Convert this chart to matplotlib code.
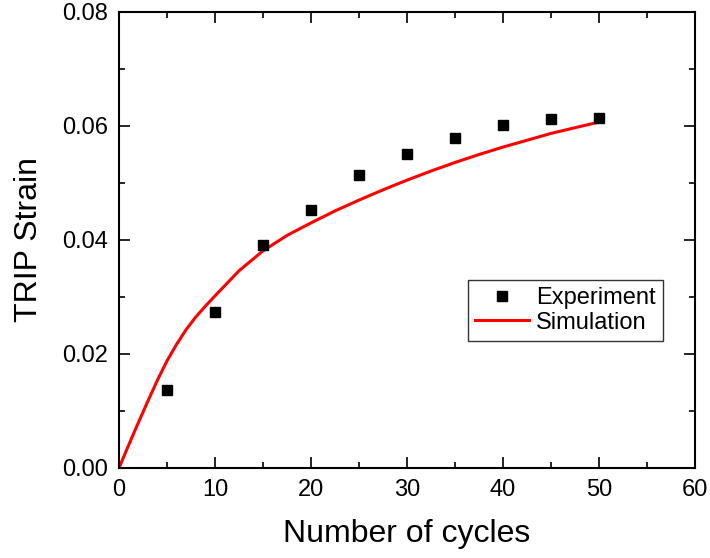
import matplotlib.pyplot as plt
from matplotlib.ticker import MultipleLocator, FormatStrFormatter

plt.rcParams['font.family'] = ['Liberation Sans', 'DejaVu Sans']

# experiment points
exp_cycles = [5, 10, 15, 20, 25, 30, 35, 40, 45, 50]
exp_strain = [0.0137, 0.0274, 0.0391, 0.0453, 0.0514, 0.0550, 0.0579, 0.0602, 0.0612, 0.0614]

# simulation curve
sim_cycles = [0, 1, 2, 3, 4, 5, 6, 7, 8, 9, 10, 12.5, 15, 17.5, 20, 22.5, 25,
              27.5, 30, 32.5, 35, 37.5, 40, 42.5, 45, 47.5, 50]
sim_strain = [0.0, 0.0040, 0.0079, 0.0117, 0.0154, 0.0188, 0.0217, 0.0243, 0.0265,
              0.0284, 0.0302, 0.0346, 0.0381, 0.0408, 0.0430, 0.0451, 0.0470,
              0.0488, 0.0505, 0.0521, 0.0536, 0.0550, 0.0563, 0.0575, 0.0587,
              0.0597, 0.0607]

fig = plt.figure(figsize=(7.1, 5.58), dpi=100)
ax = fig.add_axes([0.1676, 0.1613, 0.8113, 0.8172])

ax.plot(exp_cycles, exp_strain, 's', color='black', ms=7, label='Experiment', zorder=3)
ax.plot(sim_cycles, sim_strain, '-', color='red', lw=2.2, label='Simulation')

ax.set_xlim(0, 60)
ax.set_ylim(0, 0.08)
ax.xaxis.set_major_locator(MultipleLocator(10))
ax.xaxis.set_minor_locator(MultipleLocator(5))
ax.yaxis.set_major_locator(MultipleLocator(0.02))
ax.yaxis.set_minor_locator(MultipleLocator(0.01))
ax.yaxis.set_major_formatter(FormatStrFormatter('%.2f'))

ax.tick_params(which='both', direction='in', top=True, right=True, labelsize=17, width=1.2)
ax.tick_params(which='major', length=8, pad=8)
ax.tick_params(which='minor', length=4)
for s in ax.spines.values():
    s.set_linewidth(1.5)

ax.set_xlabel('Number of cycles', fontsize=23, labelpad=13)
ax.set_ylabel('TRIP Strain', fontsize=23, labelpad=13)

leg = ax.legend(loc='upper right', bbox_to_anchor=(0.944, 0.412), borderaxespad=0,
                fontsize=17, frameon=True, fancybox=False, edgecolor='black',
                handlelength=2.3, handletextpad=0.3, labelspacing=0.1, borderpad=0.3)
leg.get_frame().set_linewidth(1.0)

plt.savefig('out.png', dpi=100)
